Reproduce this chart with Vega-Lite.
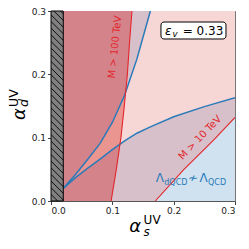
{
  "$schema": "https://vega.github.io/schema/vega-lite/v6.json",
  "width": 184,
  "height": 190,
  "autosize": "none",
  "padding": {"left": 51, "top": 11, "right": 14, "bottom": 48},
  "background": "white",
  "config": {
    "font": "DejaVu Sans",
    "view": {"stroke": "#777", "strokeWidth": 1, "fill": "#d0e2ef"},
    "axis": {"grid": false, "domainColor": "#555", "tickColor": "#444", "tickSize": 3.5, "labelFontSize": 9, "labelColor": "#222", "labelFont": "DejaVu Sans", "labelPadding": 2, "title": null}
  },
  "layer": [
    {
      "data": {"values": [
        {"x": 0, "lo": 0, "hi": 0.3}, {"x": 0.17, "lo": 0, "hi": 0.3}, {"x": 0.216, "lo": 0.049, "hi": 0.3}, {"x": 0.265, "lo": 0.096, "hi": 0.3}, {"x": 0.3, "lo": 0.132, "hi": 0.3}
      ]},
      "mark": {"type": "area", "color": "#d8c0ca", "clip": true},
      "encoding": {
        "x": {"field": "x", "type": "quantitative", "scale": {"domain": [0, 0.3], "nice": false}, "axis": {"values": [0, 0.1, 0.2, 0.3], "format": ".1f"}},
        "y": {"field": "lo", "type": "quantitative", "scale": {"domain": [0, 0.3], "nice": false}, "axis": {"values": [0, 0.1, 0.2, 0.3], "format": ".1f"}},
        "y2": {"field": "hi"}
      }
    },
    {
      "data": {"values": [
        {"x": 0.02, "lo": 0.02, "hi": 0.02}, {"x": 0.04, "lo": 0.037, "hi": 0.042}, {"x": 0.06, "lo": 0.052, "hi": 0.066}, {"x": 0.08, "lo": 0.066, "hi": 0.091}, {"x": 0.1, "lo": 0.081, "hi": 0.124}, {"x": 0.12, "lo": 0.095, "hi": 0.167}, {"x": 0.14, "lo": 0.107, "hi": 0.224}, {"x": 0.162, "lo": 0.117, "hi": 0.3}, {"x": 0.2, "lo": 0.133, "hi": 0.3}, {"x": 0.25, "lo": 0.149, "hi": 0.3}, {"x": 0.3, "lo": 0.163, "hi": 0.3}
      ]},
      "mark": {"type": "area", "color": "#f7d6d6", "clip": true},
      "encoding": {
        "x": {"field": "x", "type": "quantitative", "scale": {"domain": [0, 0.3], "nice": false}},
        "y": {"field": "lo", "type": "quantitative", "scale": {"domain": [0, 0.3], "nice": false}},
        "y2": {"field": "hi"}
      }
    },
    {
      "data": {"values": [
        {"y": 0, "xl": 0, "xr": 0.098}, {"y": 0.05, "xl": 0, "xr": 0.1065}, {"y": 0.1, "xl": 0, "xr": 0.114}, {"y": 0.15, "xl": 0, "xr": 0.1195}, {"y": 0.2, "xl": 0, "xr": 0.1245}, {"y": 0.25, "xl": 0, "xr": 0.128}, {"y": 0.3, "xl": 0, "xr": 0.132}
      ]},
      "mark": {"type": "area", "orient": "horizontal", "color": "#d5838b", "clip": true},
      "encoding": {
        "y": {"field": "y", "type": "quantitative", "scale": {"domain": [0, 0.3], "nice": false}},
        "x": {"field": "xl", "type": "quantitative", "scale": {"domain": [0, 0.3], "nice": false}},
        "x2": {"field": "xr"}
      }
    },
    {
      "data": {"values": [
        {"x": 0.02, "lo": 0.02, "hi": 0.02}, {"x": 0.04, "lo": 0.037, "hi": 0.042}, {"x": 0.06, "lo": 0.052, "hi": 0.066}, {"x": 0.08, "lo": 0.066, "hi": 0.091}, {"x": 0.1, "lo": 0.081, "hi": 0.124}, {"x": 0.1125, "lo": 0.0895, "hi": 0.151}, {"x": 0.1195, "lo": 0.15, "hi": 0.166}, {"x": 0.1219, "lo": 0.172, "hi": 0.172}
      ]},
      "mark": {"type": "area", "color": "#ea9590", "clip": true},
      "encoding": {
        "x": {"field": "x", "type": "quantitative", "scale": {"domain": [0, 0.3], "nice": false}},
        "y": {"field": "lo", "type": "quantitative", "scale": {"domain": [0, 0.3], "nice": false}},
        "y2": {"field": "hi"}
      }
    },
    {
      "data": {"values": [
        {"c": "a", "x": 0.02, "y": 0.02}, {"c": "a", "x": 0.04, "y": 0.042}, {"c": "a", "x": 0.06, "y": 0.066}, {"c": "a", "x": 0.08, "y": 0.091}, {"c": "a", "x": 0.1, "y": 0.124}, {"c": "a", "x": 0.12, "y": 0.167}, {"c": "a", "x": 0.14, "y": 0.224}, {"c": "a", "x": 0.162, "y": 0.3},
        {"c": "b", "x": 0.02, "y": 0.02}, {"c": "b", "x": 0.04, "y": 0.037}, {"c": "b", "x": 0.06, "y": 0.052}, {"c": "b", "x": 0.08, "y": 0.066}, {"c": "b", "x": 0.1, "y": 0.081}, {"c": "b", "x": 0.12, "y": 0.095}, {"c": "b", "x": 0.14, "y": 0.107}, {"c": "b", "x": 0.162, "y": 0.117}, {"c": "b", "x": 0.2, "y": 0.133}, {"c": "b", "x": 0.25, "y": 0.149}, {"c": "b", "x": 0.3, "y": 0.163}
      ]},
      "mark": {"type": "line", "color": "#2a7ab9", "strokeWidth": 1.5, "clip": true},
      "encoding": {
        "x": {"field": "x", "type": "quantitative", "scale": {"domain": [0, 0.3], "nice": false}},
        "y": {"field": "y", "type": "quantitative", "scale": {"domain": [0, 0.3], "nice": false}},
        "detail": {"field": "c"}
      }
    },
    {
      "data": {"values": [
        {"c": "m100", "x": 0.098, "y": 0}, {"c": "m100", "x": 0.1065, "y": 0.05}, {"c": "m100", "x": 0.114, "y": 0.1}, {"c": "m100", "x": 0.1195, "y": 0.15}, {"c": "m100", "x": 0.1245, "y": 0.2}, {"c": "m100", "x": 0.128, "y": 0.25}, {"c": "m100", "x": 0.132, "y": 0.3},
        {"c": "m10", "x": 0.17, "y": 0}, {"c": "m10", "x": 0.216, "y": 0.049}, {"c": "m10", "x": 0.265, "y": 0.096}, {"c": "m10", "x": 0.3, "y": 0.132}
      ]},
      "mark": {"type": "line", "color": "#e2262b", "strokeWidth": 1.1, "clip": true},
      "encoding": {
        "x": {"field": "x", "type": "quantitative", "scale": {"domain": [0, 0.3], "nice": false}},
        "y": {"field": "y", "type": "quantitative", "scale": {"domain": [0, 0.3], "nice": false}},
        "detail": {"field": "c"}
      }
    },
    {
      "data": {"values": [{"x0": 0, "x1": 0.02, "y0": 0, "y1": 0.3}]},
      "mark": {"type": "rect", "fill": "#808080", "stroke": "black", "strokeWidth": 1},
      "encoding": {
        "x": {"field": "x0", "type": "quantitative", "scale": {"domain": [0, 0.3], "nice": false}},
        "x2": {"field": "x1"},
        "y": {"field": "y0", "type": "quantitative", "scale": {"domain": [0, 0.3], "nice": false}},
        "y2": {"field": "y1"}
      }
    },
    {
      "data": {"values": [
        {"a": 0.0, "b": -0.0194}, {"a": 0.0105, "b": -0.0089}, {"a": 0.021, "b": 0.0016}, {"a": 0.0315, "b": 0.0121}, {"a": 0.042, "b": 0.0226}, {"a": 0.0525, "b": 0.0331}, {"a": 0.063, "b": 0.0436}, {"a": 0.0735, "b": 0.0541}, {"a": 0.084, "b": 0.0646}, {"a": 0.0945, "b": 0.0751}, {"a": 0.105, "b": 0.0856}, {"a": 0.1155, "b": 0.0961}, {"a": 0.126, "b": 0.1066}, {"a": 0.1365, "b": 0.1171}, {"a": 0.147, "b": 0.1276}, {"a": 0.1575, "b": 0.1381}, {"a": 0.168, "b": 0.1486}, {"a": 0.1785, "b": 0.1591}, {"a": 0.189, "b": 0.1696}, {"a": 0.1995, "b": 0.1801}, {"a": 0.21, "b": 0.1906}, {"a": 0.2205, "b": 0.2011}, {"a": 0.231, "b": 0.2116}, {"a": 0.2415, "b": 0.2221}, {"a": 0.252, "b": 0.2326}, {"a": 0.2625, "b": 0.2431}, {"a": 0.273, "b": 0.2536}, {"a": 0.2835, "b": 0.2641}, {"a": 0.294, "b": 0.2746}, {"a": 0.3045, "b": 0.2851}, {"a": 0.315, "b": 0.2956}
      ]},
      "mark": {"type": "rule", "color": "black", "strokeWidth": 0.9, "clip": true},
      "encoding": {
        "x": {"datum": 0, "type": "quantitative", "scale": {"domain": [0, 0.3], "nice": false}},
        "x2": {"datum": 0.02},
        "y": {"field": "a", "type": "quantitative", "scale": {"domain": [0, 0.3], "nice": false}},
        "y2": {"field": "b"}
      }
    },
    {
      "data": {"values": [{"x": 0.1044, "y": 0.243, "t": "M > 100 TeV"}]},
      "mark": {"type": "text", "angle": 276, "fontSize": 10, "color": "#e2262b", "align": "center", "baseline": "middle"},
      "encoding": {
        "x": {"field": "x", "type": "quantitative", "scale": {"domain": [0, 0.3], "nice": false}},
        "y": {"field": "y", "type": "quantitative", "scale": {"domain": [0, 0.3], "nice": false}},
        "text": {"field": "t"}
      }
    },
    {
      "data": {"values": [{"x": 0.243, "y": 0.1, "t": "M > 10 TeV"}]},
      "mark": {"type": "text", "angle": 314, "fontSize": 10, "color": "#e2262b", "align": "center", "baseline": "middle"},
      "encoding": {
        "x": {"field": "x", "type": "quantitative", "scale": {"domain": [0, 0.3], "nice": false}},
        "y": {"field": "y", "type": "quantitative", "scale": {"domain": [0, 0.3], "nice": false}},
        "text": {"field": "t"}
      }
    },
    {
      "data": {"values": [{"x": 0.1706, "y": 0.0295, "t": "Λ"}, {"x": 0.2234, "y": 0.0295, "t": "≁"}, {"x": 0.2421, "y": 0.0295, "t": "Λ"}]},
      "mark": {"type": "text", "fontSize": 12, "color": "#2a7ab9", "align": "left", "baseline": "alphabetic"},
      "encoding": {
        "x": {"field": "x", "type": "quantitative", "scale": {"domain": [0, 0.3], "nice": false}},
        "y": {"field": "y", "type": "quantitative", "scale": {"domain": [0, 0.3], "nice": false}},
        "text": {"field": "t"}
      }
    },
    {
      "data": {"values": [{"x": 0.1847, "y": 0.0258, "t": "dQCD"}, {"x": 0.256, "y": 0.0258, "t": "QCD"}]},
      "mark": {"type": "text", "fontSize": 8, "color": "#2a7ab9", "align": "left", "baseline": "alphabetic"},
      "encoding": {
        "x": {"field": "x", "type": "quantitative", "scale": {"domain": [0, 0.3], "nice": false}},
        "y": {"field": "y", "type": "quantitative", "scale": {"domain": [0, 0.3], "nice": false}},
        "text": {"field": "t"}
      }
    },
    {
      "data": {"values": [{"x0": 0.1793, "x1": 0.2853, "y0": 0.2558, "y1": 0.2826}]},
      "mark": {"type": "rect", "fill": "white", "stroke": "black", "strokeWidth": 1, "cornerRadius": 3},
      "encoding": {
        "x": {"field": "x0", "type": "quantitative", "scale": {"domain": [0, 0.3], "nice": false}},
        "x2": {"field": "x1"},
        "y": {"field": "y0", "type": "quantitative", "scale": {"domain": [0, 0.3], "nice": false}},
        "y2": {"field": "y1"}
      }
    },
    {
      "data": {"values": [{"x": 0.1859, "y": 0.2621, "t": "ε"}]},
      "mark": {"type": "text", "fontSize": 12, "fontStyle": "italic", "color": "black", "align": "left", "baseline": "alphabetic"},
      "encoding": {
        "x": {"field": "x", "type": "quantitative", "scale": {"domain": [0, 0.3], "nice": false}},
        "y": {"field": "y", "type": "quantitative", "scale": {"domain": [0, 0.3], "nice": false}},
        "text": {"field": "t"}
      }
    },
    {
      "data": {"values": [{"x": 0.1981, "y": 0.2582, "t": "v"}]},
      "mark": {"type": "text", "fontSize": 8.5, "fontStyle": "italic", "color": "black", "align": "left", "baseline": "alphabetic"},
      "encoding": {
        "x": {"field": "x", "type": "quantitative", "scale": {"domain": [0, 0.3], "nice": false}},
        "y": {"field": "y", "type": "quantitative", "scale": {"domain": [0, 0.3], "nice": false}},
        "text": {"field": "t"}
      }
    },
    {
      "data": {"values": [{"x": 0.2147, "y": 0.2621, "t": "= 0.33"}]},
      "mark": {"type": "text", "fontSize": 12, "color": "black", "align": "left", "baseline": "alphabetic"},
      "encoding": {
        "x": {"field": "x", "type": "quantitative", "scale": {"domain": [0, 0.3], "nice": false}},
        "y": {"field": "y", "type": "quantitative", "scale": {"domain": [0, 0.3], "nice": false}},
        "text": {"field": "t"}
      }
    },
    {
      "data": {"values": [{"x": 0.1277, "y": -0.0485, "t": "α"}]},
      "mark": {"type": "text", "fontSize": 18, "fontStyle": "italic", "color": "black", "align": "left", "baseline": "alphabetic"},
      "encoding": {
        "x": {"field": "x", "type": "quantitative", "scale": {"domain": [0, 0.3], "nice": false}},
        "y": {"field": "y", "type": "quantitative", "scale": {"domain": [0, 0.3], "nice": false}},
        "text": {"field": "t"}
      }
    },
    {
      "data": {"values": [{"x": -0.0424, "y": 0.128, "t": "α"}]},
      "mark": {"type": "text", "fontSize": 18, "fontStyle": "italic", "angle": 270, "color": "black", "align": "left", "baseline": "alphabetic"},
      "encoding": {
        "x": {"field": "x", "type": "quantitative", "scale": {"domain": [0, 0.3], "nice": false}},
        "y": {"field": "y", "type": "quantitative", "scale": {"domain": [0, 0.3], "nice": false}},
        "text": {"field": "t"}
      }
    },
    {
      "data": {"values": [{"x": 0.151, "y": -0.0548, "t": "s"}]},
      "mark": {"type": "text", "fontSize": 12, "fontStyle": "italic", "color": "black", "align": "left", "baseline": "alphabetic"},
      "encoding": {
        "x": {"field": "x", "type": "quantitative", "scale": {"domain": [0, 0.3], "nice": false}},
        "y": {"field": "y", "type": "quantitative", "scale": {"domain": [0, 0.3], "nice": false}},
        "text": {"field": "t"}
      }
    },
    {
      "data": {"values": [{"x": 0.151, "y": -0.0362, "t": "UV"}]},
      "mark": {"type": "text", "fontSize": 12, "color": "black", "align": "left", "baseline": "alphabetic"},
      "encoding": {
        "x": {"field": "x", "type": "quantitative", "scale": {"domain": [0, 0.3], "nice": false}},
        "y": {"field": "y", "type": "quantitative", "scale": {"domain": [0, 0.3], "nice": false}},
        "text": {"field": "t"}
      }
    },
    {
      "data": {"values": [{"x": -0.0367, "y": 0.1484, "t": "d"}]},
      "mark": {"type": "text", "fontSize": 12.6, "fontStyle": "italic", "angle": 270, "color": "black", "align": "left", "baseline": "alphabetic"},
      "encoding": {
        "x": {"field": "x", "type": "quantitative", "scale": {"domain": [0, 0.3], "nice": false}},
        "y": {"field": "y", "type": "quantitative", "scale": {"domain": [0, 0.3], "nice": false}},
        "text": {"field": "t"}
      }
    },
    {
      "data": {"values": [{"x": -0.0538, "y": 0.1484, "t": "UV"}]},
      "mark": {"type": "text", "fontSize": 12.6, "angle": 270, "color": "black", "align": "left", "baseline": "alphabetic"},
      "encoding": {
        "x": {"field": "x", "type": "quantitative", "scale": {"domain": [0, 0.3], "nice": false}},
        "y": {"field": "y", "type": "quantitative", "scale": {"domain": [0, 0.3], "nice": false}},
        "text": {"field": "t"}
      }
    }
  ]
}
